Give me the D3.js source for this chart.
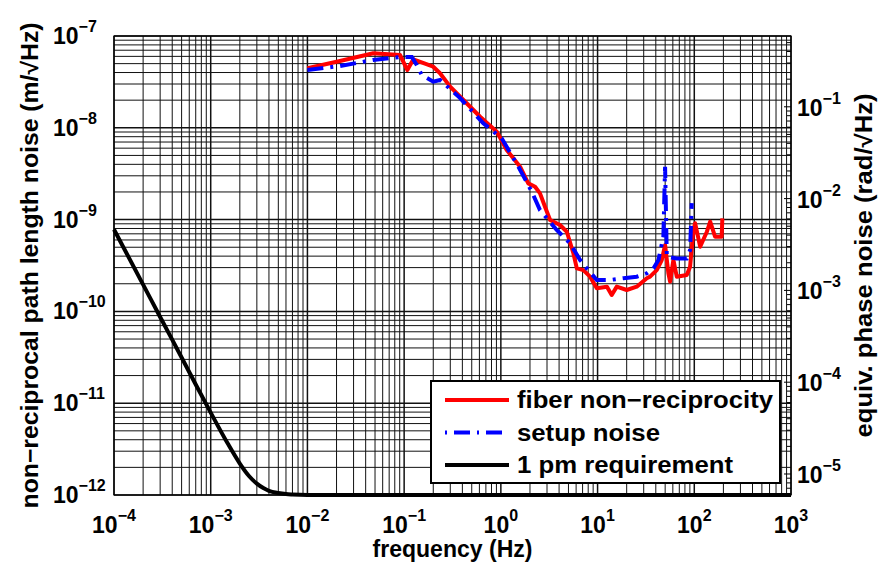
<!DOCTYPE html>
<html lang="en">
<head>
  <meta charset="UTF-8">
  <title>Fiber non-reciprocity</title>
  <script src="https://d3js.org/d3.v7.min.js"></script>
  <style>
    body { margin: 0; background: #fff; }
    svg text { font-family: "Liberation Sans", Arial, Helvetica, sans-serif; font-weight: bold; fill: #000; }
  </style>
</head>
<body>
  <div id="chart"></div>
  <script>
    // 1 pm requirement
    const reqFreq = [1e-4, 2e-4, 3e-4, 5e-4, 7e-4, 1e-3, 1.5e-3, 2e-3, 2.5e-3, 3e-3, 3.5e-3, 4e-3, 5e-3, 6e-3, 7e-3, 1e-2, 1e-1, 1, 10, 100, 1000];
    const reqNoise = [7.8e-10, 1.96e-10, 8.7e-11, 3.15e-11, 1.6e-11, 7.9e-12, 3.63e-12, 2.2e-12, 1.6e-12, 1.33e-12, 1.19e-12, 1.11e-12, 1.05e-12, 1.023e-12, 1.013e-12, 1.003e-12, 1e-12, 1e-12, 1e-12, 1e-12, 1e-12];

    // fiber non-reciprocity
    const redFreq = [0.01, 0.0217, 0.048, 0.0908, 0.108, 0.1245, 0.2, 0.235, 0.299, 0.443, 0.61, 0.908, 1.15, 1.58, 1.92, 2.26, 2.54, 2.86, 3.23, 4.09, 4.81, 5.62, 6.1, 7.13, 8.36, 9.82, 12.5, 14.0, 15.8, 20.0, 25.4, 32.3, 34.9, 40.9, 46.1, 49.9, 54.0, 56.2, 60.8, 65.9, 83.6, 90.5, 98, 102, 115, 135, 146, 164, 192, 195];
    const redNoise = [4.45e-8, 5.34e-8, 6.48e-8, 6.2e-8, 4.26e-8, 5.57e-8, 4.63e-8, 3.93e-8, 2.81e-8, 1.85e-8, 1.32e-8, 9.08e-9, 5.73e-9, 3.77e-9, 2.48e-9, 2.28e-9, 1.93e-9, 1.38e-9, 9.9e-10, 8.73e-10, 7.38e-10, 4.3e-10, 2.94e-10, 2.82e-10, 2.39e-10, 1.79e-10, 1.86e-10, 1.51e-10, 1.86e-10, 1.71e-10, 1.86e-10, 2.3e-10, 2.39e-10, 2.82e-10, 3.63e-10, 5.28e-10, 2.6e-10, 2.11e-10, 3.63e-10, 2.39e-10, 2.49e-10, 3.07e-10, 7.71e-10, 9.12e-10, 5.07e-10, 7.38e-10, 9.48e-10, 6.52e-10, 6.52e-10, 1.03e-9];

    // setup noise
    const blueFreq = [0.01, 0.0217, 0.0477, 0.0908, 0.12, 0.135, 0.152, 0.2, 0.235, 0.379, 0.659, 1.02, 1.52, 2.09, 2.54, 3.78, 5.2, 6.59, 7.73, 9.82, 13.5, 18.5, 25.4, 32.3, 37.8, 42.6, 47.9, 49.9, 52, 65.9, 83.6, 90.5, 94.2];
    const blueNoise = [4.27e-8, 4.71e-8, 5.48e-8, 5.9e-8, 5.9e-8, 4.83e-8, 3.76e-8, 3.18e-8, 3.32e-8, 2.11e-8, 1.12e-8, 7.69e-9, 3.77e-9, 2.01e-9, 1.27e-9, 7.71e-10, 5.52e-10, 3.63e-10, 2.94e-10, 2.2e-10, 2.2e-10, 2.3e-10, 2.39e-10, 2.6e-10, 2.94e-10, 3.63e-10, 6.52e-10, 3.77e-9, 3.94e-10, 3.78e-10, 3.78e-10, 4.67e-10, 1.51e-9];

    const xTickExp = [-4, -3, -2, -1, 0, 1, 2, 3];
    const yTickExp = [-12, -11, -10, -9, -8, -7];
    const yRightTickExp = [-5, -4, -3, -2, -1];
    const wavelength = 1.064e-6;

    const width = 878, height = 569;
    const mLeft = 114, mRight = 791, mTop = 36, mBottom = 495;
    const k = 2 * Math.PI / wavelength;

    const svg = d3.select("#chart").append("svg")
      .attr("width", width)
      .attr("height", height);

    const x = d3.scaleLog().domain([1e-4, 1e3]).range([mLeft, mRight]);
    const y = d3.scaleLog().domain([1e-12, 1e-7]).range([mBottom, mTop]);
    const yR = d3.scaleLog().domain([1e-12 * k, 1e-7 * k]).range([mBottom, mTop]);

    const isMajor = v => Math.abs(Math.log10(v) - Math.round(Math.log10(v))) < 1e-6;

    // grid
    const grid = svg.append("g");
    grid.selectAll(".gx").data(x.ticks()).join("line")
      .attr("x1", d => x(d)).attr("x2", d => x(d))
      .attr("y1", mTop).attr("y2", mBottom)
      .attr("stroke", "#111")
      .attr("stroke-width", d => isMajor(d) ? 1.5 : 1);
    grid.selectAll(".gy").data(y.ticks()).join("line")
      .attr("y1", d => y(d)).attr("y2", d => y(d))
      .attr("x1", mLeft).attr("x2", mRight)
      .attr("stroke", "#111")
      .attr("stroke-width", d => isMajor(d) ? 1.5 : 1);

    // right axis ticks
    svg.append("g").selectAll("line").data(yR.ticks()).join("line")
      .attr("x1", mRight).attr("x2", d => mRight - (isMajor(d) ? 7 : 4))
      .attr("y1", d => yR(d)).attr("y2", d => yR(d))
      .attr("stroke", "#000").attr("stroke-width", 1);

    // frame
    svg.append("rect")
      .attr("x", mLeft).attr("y", mTop)
      .attr("width", mRight - mLeft).attr("height", mBottom - mTop)
      .attr("fill", "none").attr("stroke", "#000").attr("stroke-width", 1.2);

    // curves
    const zip = (a, b) => a.map((v, i) => [v, b[i]]);
    const smooth = d3.line().x(d => x(d[0])).y(d => y(d[1])).curve(d3.curveMonotoneX);
    const line = d3.line().x(d => x(d[0])).y(d => y(d[1]));

    svg.append("path")
      .datum(zip(reqFreq, reqNoise))
      .attr("d", smooth)
      .attr("fill", "none").attr("stroke", "#000").attr("stroke-width", 4);

    svg.append("path")
      .datum(zip(redFreq, redNoise))
      .attr("d", line)
      .attr("fill", "none").attr("stroke", "#ff0000").attr("stroke-width", 4)
      .attr("stroke-linejoin", "round");

    svg.append("path")
      .datum(zip(blueFreq, blueNoise))
      .attr("d", line)
      .attr("fill", "none").attr("stroke", "#0000ff").attr("stroke-width", 4)
      .attr("stroke-dasharray", "16,7,3,7");

    // tick labels
    function powLabel(sel, exp) {
      sel.append("tspan").text("10");
      sel.append("tspan")
        .attr("dy", -12)
        .attr("font-size", 16)
        .text(exp < 0 ? "\u2212" + (-exp) : String(exp));
    }

    xTickExp.forEach(e => {
      const t = svg.append("text")
        .attr("x", x(Math.pow(10, e)))
        .attr("y", 533)
        .attr("text-anchor", "middle")
        .attr("font-size", 23);
      powLabel(t, e);
    });

    yTickExp.forEach(e => {
      const t = svg.append("text")
        .attr("x", 53)
        .attr("y", y(Math.pow(10, e)) + 8)
        .attr("font-size", 23);
      powLabel(t, e);
    });

    yRightTickExp.forEach(e => {
      const t = svg.append("text")
        .attr("x", 797)
        .attr("y", yR(Math.pow(10, e)) + 9)
        .attr("font-size", 23);
      powLabel(t, e);
    });

    // axis titles
    svg.append("text")
      .attr("x", (mLeft + mRight) / 2)
      .attr("y", 557)
      .attr("text-anchor", "middle")
      .attr("font-size", 23)
      .attr("textLength", 160)
      .attr("lengthAdjust", "spacingAndGlyphs")
      .text("frequency (Hz)");

    svg.append("text")
      .attr("transform", `translate(38,${(mTop + mBottom) / 2}) rotate(-90)`)
      .attr("text-anchor", "middle")
      .attr("font-size", 23)
      .attr("textLength", 486)
      .attr("lengthAdjust", "spacingAndGlyphs")
      .text("non\u2212reciprocal path length noise (m/\u221AHz)");

    svg.append("text")
      .attr("transform", `translate(872,${(mTop + mBottom) / 2}) rotate(-90)`)
      .attr("text-anchor", "middle")
      .attr("font-size", 23)
      .attr("textLength", 344)
      .attr("lengthAdjust", "spacingAndGlyphs")
      .text("equiv. phase noise (rad/\u221AHz)");

    // legend
    const legend = svg.append("g");
    legend.append("rect")
      .attr("x", 431).attr("y", 381)
      .attr("width", 349).attr("height", 102)
      .attr("fill", "#fff").attr("stroke", "#000").attr("stroke-width", 2);

    const legendItems = [
      { label: "fiber non\u2212reciprocity", color: "#ff0000", dash: null, w: 256 },
      { label: "setup noise", color: "#0000ff", dash: "2,7,16,7", w: 143 },
      { label: "1 pm requirement", color: "#000", dash: null, w: 216 }
    ];
    legendItems.forEach((d, i) => {
      const ly = 400 + i * 32.5;
      legend.append("line")
        .attr("x1", 445).attr("x2", 509)
        .attr("y1", ly).attr("y2", ly)
        .attr("stroke", d.color).attr("stroke-width", 4)
        .attr("stroke-dasharray", d.dash);
      legend.append("text")
        .attr("x", 517).attr("y", ly + 8)
        .attr("font-size", 23)
        .attr("textLength", d.w)
        .attr("lengthAdjust", "spacingAndGlyphs")
        .text(d.label);
    });
  </script>
</body>
</html>
